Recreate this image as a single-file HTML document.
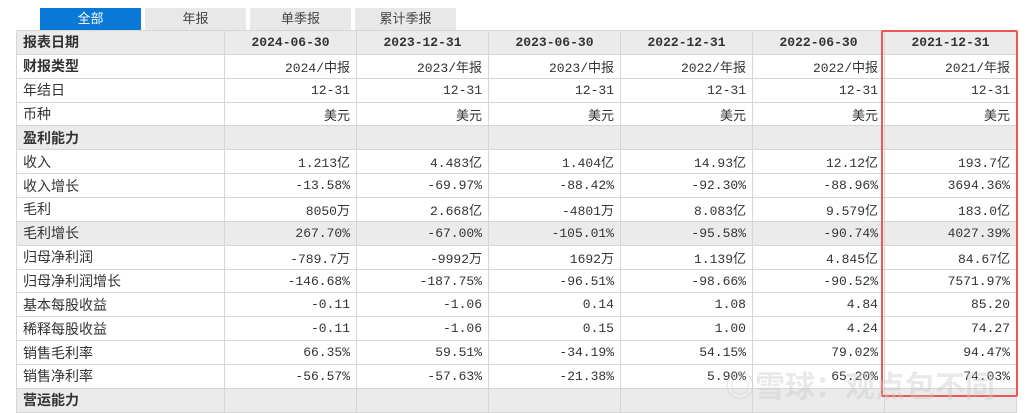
<!DOCTYPE html><html><head><meta charset="utf-8"><style>
body{margin:0;width:1027px;height:407px;background:#fff;overflow:hidden;position:relative;font-family:"Liberation Mono","Noto Sans CJK SC",monospace;font-size:13px;color:#333}
.tab{position:absolute;top:8px;height:22px;width:101px;background:#e8e8e8;text-align:center;line-height:22px;font-family:"Liberation Sans","Noto Sans CJK SC",sans-serif;font-size:13px;color:#444}
table{position:absolute;left:16px;top:30px;border-collapse:collapse;table-layout:fixed}
td{height:22.86px;box-sizing:border-box;border:1px solid #d6d6d6;padding:0 6px;text-align:right;white-space:nowrap;font-family:"Liberation Mono","Noto Sans CJK SC",monospace}
tr{height:23.86px}
td:first-child{text-align:left;font-family:"Liberation Sans","Noto Sans CJK SC",sans-serif;font-size:14px}
tr.g td{background:#ebebeb}
tr.h td{font-weight:bold;text-align:center}
tr.h td:first-child{text-align:left}
.b td:first-child{font-weight:bold}
.red{position:absolute;left:881px;top:30px;width:133px;height:363px;border:2px solid #f25555;border-radius:2px}
.wm{position:absolute;left:725px;top:362px;font-family:"Noto Sans CJK SC",sans-serif;font-size:30px;color:rgba(200,200,200,.4);font-weight:bold}
</style></head><body>
<div class="tab" style="left:40px;background:#0a78d6;color:#fff">全部</div>
<div class="tab" style="left:145px">年报</div>
<div class="tab" style="left:250px">单季报</div>
<div class="tab" style="left:355px">累计季报</div>
<table>
<colgroup><col style="width:208px"><col style="width:132px"><col style="width:132px"><col style="width:132px"><col style="width:132px"><col style="width:132px"><col style="width:132px"></colgroup>
<tr class="h g"><td>报表日期</td><td>2024-06-30</td><td>2023-12-31</td><td>2023-06-30</td><td>2022-12-31</td><td>2022-06-30</td><td>2021-12-31</td></tr>
<tr class="b"><td>财报类型</td><td>2024/中报</td><td>2023/年报</td><td>2023/中报</td><td>2022/年报</td><td>2022/中报</td><td>2021/年报</td></tr>
<tr><td>年结日</td><td>12-31</td><td>12-31</td><td>12-31</td><td>12-31</td><td>12-31</td><td>12-31</td></tr>
<tr><td>币种</td><td>美元</td><td>美元</td><td>美元</td><td>美元</td><td>美元</td><td>美元</td></tr>
<tr class="g b"><td>盈利能力</td><td></td><td></td><td></td><td></td><td></td><td></td></tr>
<tr><td>收入</td><td>1.213亿</td><td>4.483亿</td><td>1.404亿</td><td>14.93亿</td><td>12.12亿</td><td>193.7亿</td></tr>
<tr><td>收入增长</td><td>-13.58%</td><td>-69.97%</td><td>-88.42%</td><td>-92.30%</td><td>-88.96%</td><td>3694.36%</td></tr>
<tr><td>毛利</td><td>8050万</td><td>2.668亿</td><td>-4801万</td><td>8.083亿</td><td>9.579亿</td><td>183.0亿</td></tr>
<tr class="g"><td>毛利增长</td><td>267.70%</td><td>-67.00%</td><td>-105.01%</td><td>-95.58%</td><td>-90.74%</td><td>4027.39%</td></tr>
<tr><td>归母净利润</td><td>-789.7万</td><td>-9992万</td><td>1692万</td><td>1.139亿</td><td>4.845亿</td><td>84.67亿</td></tr>
<tr><td>归母净利润增长</td><td>-146.68%</td><td>-187.75%</td><td>-96.51%</td><td>-98.66%</td><td>-90.52%</td><td>7571.97%</td></tr>
<tr><td>基本每股收益</td><td>-0.11</td><td>-1.06</td><td>0.14</td><td>1.08</td><td>4.84</td><td>85.20</td></tr>
<tr><td>稀释每股收益</td><td>-0.11</td><td>-1.06</td><td>0.15</td><td>1.00</td><td>4.24</td><td>74.27</td></tr>
<tr><td>销售毛利率</td><td>66.35%</td><td>59.51%</td><td>-34.19%</td><td>54.15%</td><td>79.02%</td><td>94.47%</td></tr>
<tr><td>销售净利率</td><td>-56.57%</td><td>-57.63%</td><td>-21.38%</td><td>5.90%</td><td>65.20%</td><td>74.03%</td></tr>
<tr class="g b"><td>营运能力</td><td></td><td></td><td></td><td></td><td></td><td></td></tr>
</table>
<div class="red"></div>
<div class="wm">◎雪球：观点包不同</div>
</body></html>
